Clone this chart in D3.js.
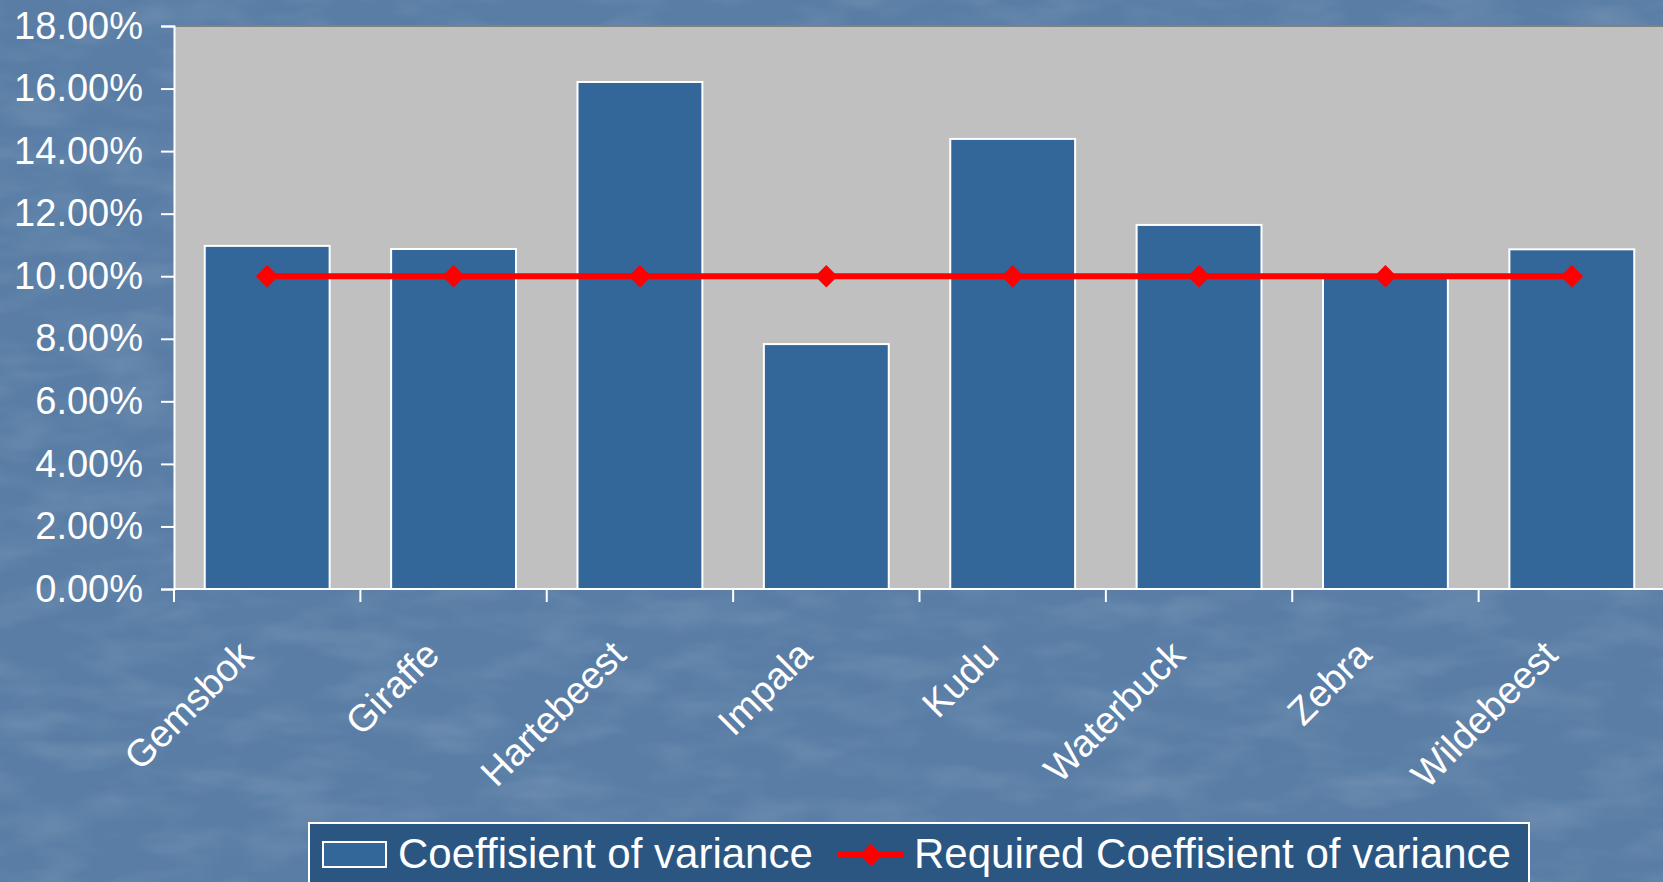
<!DOCTYPE html>
<html>
<head>
<meta charset="utf-8">
<script src="https://cdn.jsdelivr.net/npm/d3@7"></script>
<style>
  html, body { margin: 0; padding: 0; overflow: hidden; }
  svg { display: block; font-family: "Liberation Sans", Arial, sans-serif; }
</style>
</head>
<body>
<svg width="1663" height="882"></svg>
<script>
// chart data
var species = ['Gemsbok', 'Giraffe', 'Hartebeest', 'Impala', 'Kudu', 'Waterbuck', 'Zebra', 'Wildebeest'];
var coefVariance = [0.1097, 0.1087, 0.1621, 0.0783, 0.1439, 0.1164, 0.0995, 0.1086];
var requiredCoef = [0.10, 0.10, 0.10, 0.10, 0.10, 0.10, 0.10, 0.10];
var yTicks = [0, 0.02, 0.04, 0.06, 0.08, 0.10, 0.12, 0.14, 0.16, 0.18];
var legendLabels = ['Coeffisient of variance', 'Required Coeffisient of variance'];

var svg = d3.select('svg');
var W = 1663, H = 882;
// plot box (don't call it "top", that's window.top)
var plotLeft = 174, plotRight = 1665, plotTop = 26, plotBottom = 589;

// textured blue background
var defs = svg.append('defs');
var f = defs.append('filter').attr('id', 'tex').attr('x', 0).attr('y', 0).attr('width', '100%').attr('height', '100%');
f.append('feTurbulence').attr('type', 'fractalNoise').attr('baseFrequency', '0.012 0.035').attr('numOctaves', 3).attr('seed', 4);
f.append('feColorMatrix').attr('type', 'matrix')
  .attr('values', '0 0 0 0 1  0 0 0 0 1  0 0 0 0 1  0 0 0 0.55 -0.22');

svg.append('rect').attr('width', W).attr('height', H).attr('fill', '#597da5');
svg.append('rect').attr('width', W).attr('height', H).attr('filter', 'url(#tex)').attr('opacity', 0.4);

// scales
var y = d3.scaleLinear().domain([0, 0.18]).range([plotBottom, plotTop]);
var x = d3.scaleBand().domain(species).range([plotLeft, plotRight]).paddingInner(0.33).paddingOuter(0.165);
var edge = d3.scaleLinear().domain([0, species.length]).range([plotLeft, plotRight]);

// plot area
svg.append('rect')
  .attr('x', plotLeft).attr('y', plotTop)
  .attr('width', plotRight - plotLeft).attr('height', plotBottom - plotTop)
  .attr('fill', '#c0c0c0');
svg.append('line')
  .attr('x1', plotLeft).attr('x2', plotRight).attr('y1', plotTop).attr('y2', plotTop)
  .attr('stroke', '#808080').attr('stroke-width', 2);

// bars
svg.selectAll('rect.bar')
  .data(coefVariance)
  .enter()
  .append('rect')
  .attr('class', 'bar')
  .attr('x', (d, i) => x(species[i]))
  .attr('y', d => y(d))
  .attr('width', x.bandwidth())
  .attr('height', d => y(0) - y(d))
  .attr('fill', '#336699')
  .attr('stroke', '#ffffff')
  .attr('stroke-width', 2);

// required line
var cx = d => x(d) + x.bandwidth() / 2;
var line = d3.line().x((d, i) => cx(species[i])).y(d => y(d));
svg.append('path')
  .datum(requiredCoef)
  .attr('d', line)
  .attr('fill', 'none')
  .attr('stroke', '#ff0000')
  .attr('stroke-width', 6);
svg.selectAll('path.mark')
  .data(requiredCoef)
  .enter()
  .append('path')
  .attr('class', 'mark')
  .attr('d', d3.symbol().type(d3.symbolDiamond2).size(320))
  .attr('transform', (d, i) => 'translate(' + cx(species[i]) + ',' + y(d) + ')')
  .attr('fill', '#ff0000');

// y axis
var yAxis = svg.append('g')
  .attr('transform', 'translate(' + plotLeft + ',0)')
  .call(d3.axisLeft(y).tickValues(yTicks).tickFormat(d3.format('.2%')).tickSize(13).tickPadding(18));
yAxis.select('.domain').attr('stroke', '#ffffff').attr('stroke-width', 2);
yAxis.selectAll('.tick line').attr('stroke', '#ffffff').attr('stroke-width', 2);
yAxis.selectAll('.tick text').attr('fill', '#ffffff').style('font-size', '38px')
  .style('font-family', '"Liberation Sans", Arial, sans-serif');

// x axis line and boundary ticks
svg.append('line')
  .attr('x1', plotLeft).attr('x2', plotRight).attr('y1', plotBottom).attr('y2', plotBottom)
  .attr('stroke', '#ffffff').attr('stroke-width', 2);
svg.selectAll('line.xtick')
  .data(d3.range(species.length))
  .enter()
  .append('line')
  .attr('class', 'xtick')
  .attr('x1', d => edge(d)).attr('x2', d => edge(d))
  .attr('y1', plotBottom).attr('y2', plotBottom + 13)
  .attr('stroke', '#ffffff').attr('stroke-width', 2);

// x labels, rotated
svg.selectAll('text.xlab')
  .data(species)
  .enter()
  .append('text')
  .attr('class', 'xlab')
  .attr('transform', d => 'translate(' + (cx(d) - 12) + ',' + (plotBottom + 68) + ') rotate(-45)')
  .attr('text-anchor', 'end')
  .attr('fill', '#ffffff')
  .style('font-size', '38px')
  .text(d => d);

// legend
var lg = svg.append('g');
lg.append('rect')
  .attr('x', 309).attr('y', 823).attr('width', 1220).attr('height', 80)
  .attr('fill', '#2b5682').attr('stroke', '#ffffff').attr('stroke-width', 2);
lg.append('rect')
  .attr('x', 323).attr('y', 842).attr('width', 63).attr('height', 25)
  .attr('fill', '#336699').attr('stroke', '#ffffff').attr('stroke-width', 2);
lg.append('text')
  .attr('x', 398).attr('y', 868)
  .attr('fill', '#ffffff').style('font-size', '42px')
  .text(legendLabels[0]);
lg.append('line')
  .attr('x1', 838).attr('x2', 904).attr('y1', 855).attr('y2', 855)
  .attr('stroke', '#ff0000').attr('stroke-width', 6);
lg.append('path')
  .attr('d', d3.symbol().type(d3.symbolDiamond2).size(320))
  .attr('transform', 'translate(871,855)')
  .attr('fill', '#ff0000');
lg.append('text')
  .attr('x', 914).attr('y', 868)
  .attr('fill', '#ffffff').style('font-size', '42px')
  .text(legendLabels[1]);
</script>
</body>
</html>
